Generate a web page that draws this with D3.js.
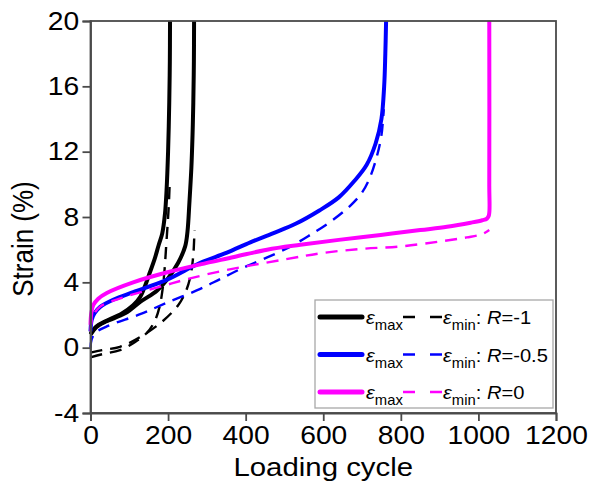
<!DOCTYPE html>
<html>
<head>
<meta charset="utf-8">
<script src="https://cdn.jsdelivr.net/npm/d3@7"></script>
<style>
  html, body { margin: 0; padding: 0; background: #fff; }
  svg { display: block; font-family: "Liberation Sans", Arial, sans-serif; }
</style>
</head>
<body>
<svg id="chart" width="590" height="492"></svg>
<script>
// Strain vs. loading cycle, [cycle, strain %] pairs per curve
const epsMaxRm1a = [[0,0.85],[15,1.3],[37,1.6],[81,2.1],[110,2.6],[128,3.1],[141,3.8],[153,4.6],[165,5.4],[176,6.3],[185,7.0],[192,8.2],[196,9.6],[200,12.0],[203,15.0],[204.5,17.5],[205,20]];
const epsMaxRm1b = [[0,0.8],[15,1.25],[40,1.6],[89,2.1],[128,2.8],[172,3.5],[197,4.15],[226,5.2],[244,6.2],[250,7.1],[255,8.9],[260,11],[263,13],[265,15],[266.5,17.5],[267,20]];
const epsMinRm1a = [[0,-0.6],[30,-0.4],[76,-0.15],[115,0.35],[145,0.9],[165,1.6],[178,2.5],[186,3.6],[191,4.8],[195,6.2],[199,7.6],[202,8.8],[204,10]];
const epsMinRm1b = [[0,-0.3],[30,-0.15],[76,0.05],[128,0.65],[185,1.6],[226,2.6],[245,3.4],[257,4.3],[263,5.2],[266,6.0],[268,7.2]];
const epsMaxRm05 = [[0,1.0],[3,1.7],[10,2.1],[25,2.5],[60,2.95],[110,3.4],[196,4.15],[283,5.2],[350,5.8],[412,6.45],[470,7.0],[530,7.6],[590,8.4],[640,9.2],[680,10.2],[712,11.2],[735,12.5],[750,14],[757,16],[760,18],[762,20]];
const epsMinRm05 = [[0,0.0],[3,0.5],[12,0.9],[42,1.3],[128,2.05],[197,2.75],[283,3.6],[334,4.2],[394,4.9],[463,5.6],[520,6.25],[566,6.9],[618,7.7],[670,8.7],[700,9.5],[720,10.4],[738,11.7],[750,13],[756,14.6]];
const epsMaxR0 = [[0,1.4],[2,2.1],[7,2.6],[20,3.0],[42,3.35],[110,4.0],[196,4.6],[283,5.1],[370,5.55],[455,6.0],[541,6.3],[640,6.6],[748,6.9],[850,7.2],[919,7.4],[980,7.65],[1010,7.8],[1022,7.9],[1027,8.1],[1028,10],[1028,20]];
const epsMinR0 = [[0,1.0],[4,1.8],[24,2.5],[75,3.0],[130,3.4],[190,3.8],[250,4.2],[350,4.75],[500,5.4],[600,5.8],[700,6.05],[800,6.2],[900,6.5],[970,6.75],[1010,6.95],[1028,7.2]];

const xTicks = [0, 200, 400, 600, 800, 1000, 1200];
const yTicks = [-4, 0, 4, 8, 12, 16, 20];
const legendRatios = ["-1", "-0.5", "0"];
const seriesColors = ["#000000", "#0000ff", "#ff00ff"];

const svg = d3.select("#chart");
const plotLeft = 90.5, plotRight = 556, plotTop = 21, plotBottom = 413;
const wide = 1.13;   // horizontal stretch applied to axis text glyphs
const legWide = 1.06;

const x = d3.scaleLinear().domain([0, 1200]).range([plotLeft, plotRight]);
const y = d3.scaleLinear().domain([-4, 20]).range([plotBottom, plotTop]);

const axisColor = "#4a4a4a";

// curves
const line = d3.line()
  .x(d => x(d[0])).y(d => y(d[1]))
  .curve(d3.curveCatmullRom.alpha(0.5));

const curves = [
  { data: epsMinRm1a, color: seriesColors[0], dashed: true },
  { data: epsMinRm1b, color: seriesColors[0], dashed: true },
  { data: epsMaxRm1a, color: seriesColors[0], dashed: false },
  { data: epsMaxRm1b, color: seriesColors[0], dashed: false },
  { data: epsMinRm05, color: seriesColors[1], dashed: true },
  { data: epsMaxRm05, color: seriesColors[1], dashed: false },
  { data: epsMinR0, color: seriesColors[2], dashed: true },
  { data: epsMaxR0, color: seriesColors[2], dashed: false }
];

svg.append("g").selectAll("path").data(curves).join("path")
  .attr("d", d => line(d.data))
  .attr("fill", "none")
  .attr("stroke", d => d.color)
  .attr("stroke-width", d => d.dashed ? 2.4 : 4)
  .attr("stroke-dasharray", d => d.dashed ? "12,8" : null)
  .attr("stroke-linejoin", "round");

// frame
svg.append("rect")
  .attr("x", plotLeft).attr("y", plotTop)
  .attr("width", plotRight - plotLeft).attr("height", plotBottom - plotTop)
  .attr("fill", "none").attr("stroke", axisColor).attr("stroke-width", 1.8);

// axes
const xAxis = d3.axisBottom(x).tickValues(xTicks).tickSize(8).tickPadding(5).tickFormat(String);
const yAxis = d3.axisLeft(y).tickValues(yTicks).tickSize(8).tickPadding(2).tickFormat(String);

const gx = svg.append("g").attr("transform", `translate(0,${plotBottom})`).call(xAxis);
const gy = svg.append("g").attr("transform", `translate(${plotLeft},0)`).call(yAxis);
[gx, gy].forEach(g => {
  g.select(".domain").attr("stroke", axisColor).attr("stroke-width", 1.8);
  g.selectAll(".tick line").attr("stroke", axisColor).attr("stroke-width", 1.8);
  g.selectAll(".tick text")
    .attr("fill", "#000")
    .attr("transform", `scale(${wide},1)`)
    .style("font-family", "'Liberation Sans', Arial, sans-serif")
    .style("font-size", "25px");
});

// axis titles
svg.append("text")
  .attr("transform", `translate(${(plotLeft + plotRight) / 2},476) scale(${wide},1)`)
  .attr("text-anchor", "middle")
  .style("font-size", "26px")
  .text("Loading cycle");

svg.append("text")
  .attr("transform", `translate(33,239) rotate(-90) scale(1,${wide})`)
  .attr("text-anchor", "middle")
  .style("font-size", "26px")
  .text("Strain (%)");

// legend
const lg = svg.append("g");
lg.append("rect")
  .attr("x", 315).attr("y", 300).attr("width", 238).attr("height", 108)
  .attr("fill", "#fff").attr("stroke", "#a8a8a8").attr("stroke-width", 1.3);

legendRatios.forEach((r, i) => {
  const cy = 317 + i * 37.5;
  const c = seriesColors[i];
  lg.append("line")
    .attr("x1", 320).attr("x2", 362).attr("y1", cy).attr("y2", cy)
    .attr("stroke", c).attr("stroke-width", 5).attr("stroke-linecap", "round");
  lg.append("line")
    .attr("x1", 403).attr("x2", 442).attr("y1", cy).attr("y2", cy)
    .attr("stroke", c).attr("stroke-width", 2.4).attr("stroke-dasharray", "12,15");

  const t1 = lg.append("text")
    .attr("transform", `translate(366,${cy + 7}) scale(${legWide},1)`)
    .style("font-size", "19px");
  t1.append("tspan").style("font-style", "italic").text("ε");
  t1.append("tspan").attr("dy", 6).style("font-size", "14px").text("max");

  const t2 = lg.append("text")
    .attr("transform", `translate(443,${cy + 7}) scale(${legWide},1)`)
    .style("font-size", "19px");
  t2.append("tspan").style("font-style", "italic").text("ε");
  t2.append("tspan").attr("dy", 6).style("font-size", "14px").text("min");
  t2.append("tspan").attr("dy", -6).text(": ");
  t2.append("tspan").style("font-style", "italic").text("R");
  t2.append("tspan").text("=" + r);
});
</script>
</body>
</html>
